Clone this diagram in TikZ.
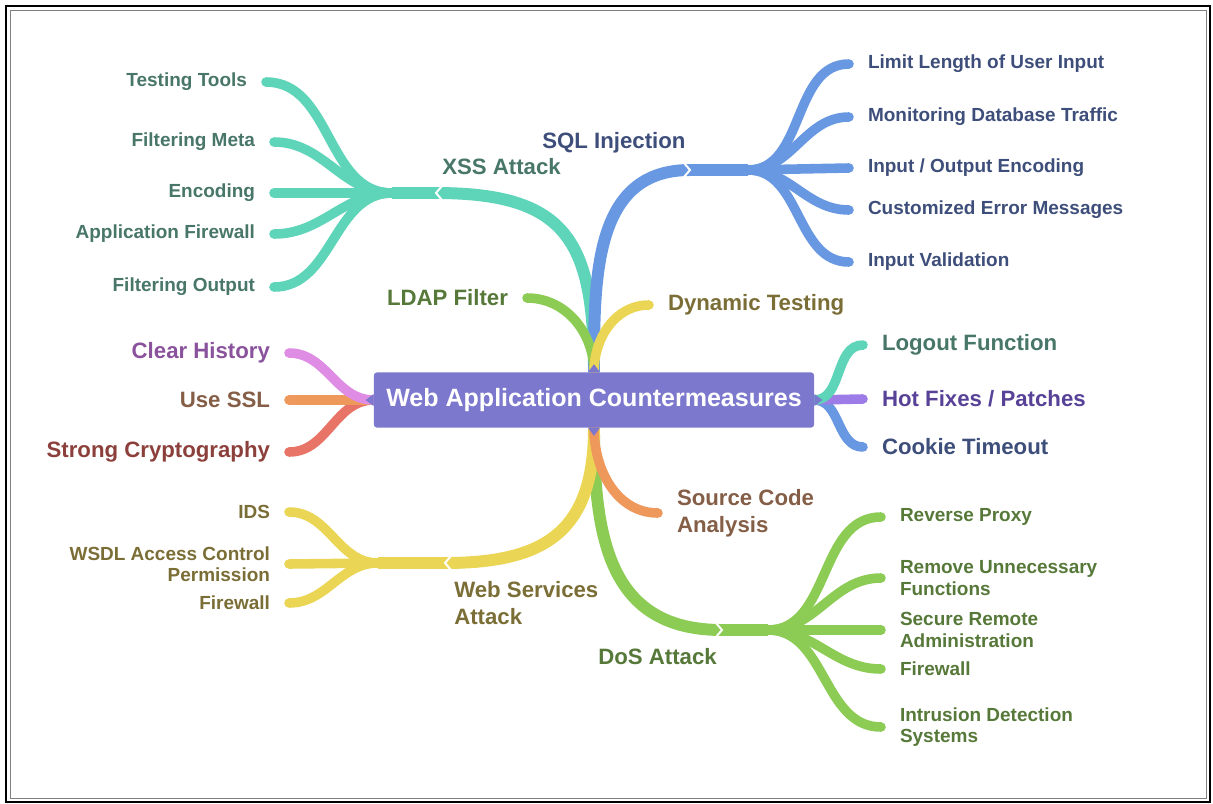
\documentclass[tikz,border=0pt]{standalone}
\usepackage{fontspec}
\setmainfont{Liberation Sans}
\usetikzlibrary{positioning,backgrounds}

\definecolor{rootc}{RGB}{124,120,206}
\definecolor{tealc}{RGB}{94,212,184}
\definecolor{tealt}{RGB}{72,118,104}
\definecolor{bluec}{RGB}{104,152,226}
\definecolor{bluet}{RGB}{62,78,122}
\definecolor{limec}{RGB}{140,204,84}
\definecolor{limet}{RGB}{86,120,56}
\definecolor{yellc}{RGB}{234,214,84}
\definecolor{yellt}{RGB}{122,110,54}
\definecolor{pinkc}{RGB}{222,140,228}
\definecolor{pinkt}{RGB}{138,82,156}
\definecolor{orngc}{RGB}{238,152,92}
\definecolor{orngt}{RGB}{132,94,70}
\definecolor{redc}{RGB}{232,116,104}
\definecolor{redt}{RGB}{140,64,60}
\definecolor{violc}{RGB}{158,124,232}
\definecolor{violt}{RGB}{88,66,152}

\begin{document}
\begin{tikzpicture}[x=0.025cm, y=-0.025cm,
    leaf/.style={font=\fontsize{13.5}{15.3}\selectfont\bfseries, inner sep=0pt, outer xsep=0.475cm},
    bigleaf/.style={leaf, font=\fontsize{15.8}{19}\selectfont\bfseries},
    tag/.style={font=\fontsize{15.8}{19}\selectfont\bfseries, inner sep=0pt, align=left},
    limb/.style={line width=8.5pt},
    twig/.style={line width=6.8pt, line cap=round},
    notch/.style={white, line width=1.4pt}]

  \useasboundingbox (0,0) rectangle (1213,804);
  \draw[line width=1.8pt] (6,6) rectangle (1210,802);
  \draw[gray, line width=0.6pt] (10,10) rectangle (1206,798);

  % centre
  \node[fill=rootc, text=white, rounded corners=2pt, minimum width=11cm, minimum height=1.375cm, font=\fontsize{17.8}{20}\selectfont\bfseries] (root) at (594,400) {Web Application Countermeasures};

  % XSS Attack
  \node[tag, anchor=west, text=tealt] (xsslab) at (442,167) {XSS Attack};
  \node[leaf, anchor=east, text=tealt] (tools) at (266,82) {Testing Tools};
  \node[leaf, anchor=east, text=tealt] (meta) at (274,142) {Filtering Meta};
  \node[leaf, anchor=east, text=tealt] (encoding) at (274,193) {Encoding};
  \node[leaf, anchor=east, text=tealt] (appfw) at (274,234) {Application Firewall};
  \node[leaf, anchor=east, text=tealt] (filtout) at (274,287) {Filtering Output};
  \coordinate (xss) at (436,193);
  \coordinate (xssfork) at (392,193);

  % SQL Injection
  \node[tag, anchor=west, text=bluet] (sqllab) at (542,143) {SQL Injection};
  \node[leaf, anchor=west, text=bluet] (limit) at (849,64) {Limit Length of User Input};
  \node[leaf, anchor=west, text=bluet] (monitor) at (849,117) {Monitoring Database Traffic};
  \node[leaf, anchor=west, text=bluet] (iocode) at (849,168) {Input / Output Encoding};
  \node[leaf, anchor=west, text=bluet] (errmsg) at (849,210) {Customized Error Messages};
  \node[leaf, anchor=west, text=bluet] (validate) at (849,262) {Input Validation};
  \coordinate (sql) at (690,170);
  \coordinate (sqlfork) at (748,170);

  \node[bigleaf, anchor=east, text=limet] (ldap) at (527,298) {LDAP Filter};
  \node[bigleaf, anchor=west, text=yellt] (dyntest) at (649,305) {Dynamic Testing};

  % left side
  \node[bigleaf, anchor=east, text=pinkt] (history) at (289,353) {Clear History};
  \node[bigleaf, anchor=east, text=orngt] (ssl) at (289,400) {Use SSL};
  \node[bigleaf, anchor=east, text=redt] (crypto) at (289,452) {Strong Cryptography};

  % right side
  \node[bigleaf, anchor=west, text=tealt] (logout) at (863,345) {Logout Function};
  \node[bigleaf, anchor=west, text=violt] (hotfix) at (863,399) {Hot Fixes / Patches};
  \node[bigleaf, anchor=west, text=bluet] (cookie) at (863,447) {Cookie Timeout};

  \node[bigleaf, anchor=west, text=orngt, align=left] (srccode) at (658,513) {Source Code\\Analysis};

  % Web Services Attack
  \node[tag, anchor=west, text=yellt] (wsalab) at (454,603) {Web Services\\Attack};
  \node[leaf, anchor=east, text=yellt] (ids) at (289,512) {IDS};
  \node[leaf, anchor=east, text=yellt, align=right] (wsdl) at (289,564) {WSDL Access Control\\Permission};
  \node[leaf, anchor=east, text=yellt] (wsfw) at (289,603) {Firewall};
  \coordinate (wsa) at (445,563);
  \coordinate (wsafork) at (378,563);

  % DoS Attack
  \node[tag, anchor=west, text=limet] (doslab) at (598,657) {DoS Attack};
  \node[leaf, anchor=west, text=limet] (revproxy) at (881,517) {Reverse Proxy};
  \node[leaf, anchor=west, text=limet, align=left] (rmfunc) at (881,578) {Remove Unnecessary\\Functions};
  \node[leaf, anchor=west, text=limet, align=left] (remadmin) at (881,630) {Secure Remote\\Administration};
  \node[leaf, anchor=west, text=limet] (dosfw) at (881,669) {Firewall};
  \node[leaf, anchor=west, text=limet, align=left] (intrusion) at (881,727) {Intrusion Detection\\Systems};
  \coordinate (dos) at (722,630);
  \coordinate (dosfork) at (768,630);

  \begin{scope}[on background layer]
    \draw[limb, tealc] (root.north) to[out=90, in=0, looseness=1.4] (xss) -- (xssfork);
    \draw[twig, tealc] (xssfork) to[out=180, in=0] (tools.east);
    \draw[twig, tealc] (xssfork) to[out=180, in=0] (meta.east);
    \draw[twig, tealc] (xssfork) -- (encoding.east);
    \draw[twig, tealc] (xssfork) to[out=180, in=0] (appfw.east);
    \draw[twig, tealc] (xssfork) to[out=180, in=0] (filtout.east);

    \draw[limb, bluec] (root.north) to[out=90, in=180, looseness=1.1] (sql) -- (sqlfork);
    \draw[twig, bluec] (sqlfork) to[out=0, in=180] (limit.west);
    \draw[twig, bluec] (sqlfork) to[out=0, in=180] (monitor.west);
    \draw[twig, bluec] (sqlfork) -- (iocode.west);
    \draw[twig, bluec] (sqlfork) to[out=0, in=180] (errmsg.west);
    \draw[twig, bluec] (sqlfork) to[out=0, in=180] (validate.west);

    \draw[twig, limec] (root.north) to[out=90, in=0] (ldap.east);
    \draw[twig, yellc] (root.north) to[out=90, in=180] (dyntest.west);

    \draw[limb, limec] (root.south) to[out=-90, in=180, looseness=1.2] (dos) -- (dosfork);
    \draw[twig, limec] (dosfork) to[out=0, in=180] (revproxy.west);
    \draw[twig, limec] (dosfork) to[out=0, in=180] (rmfunc.west);
    \draw[twig, limec] (dosfork) -- (remadmin.west);
    \draw[twig, limec] (dosfork) to[out=0, in=180] (dosfw.west);
    \draw[twig, limec] (dosfork) to[out=0, in=180] (intrusion.west);

    \draw[limb, yellc] (root.south) to[out=-90, in=0, looseness=1.3] (wsa) -- (wsafork);
    \draw[twig, yellc] (wsafork) to[out=180, in=0] (ids.east);
    \draw[twig, yellc] (wsafork) -- (wsdl.east);
    \draw[twig, yellc] (wsafork) to[out=180, in=0] (wsfw.east);

    \draw[twig, orngc] (root.south) to[out=-90, in=180] (srccode.west);

    \draw[twig, redc] (root.west) to[out=180, in=0] (crypto.east);
    \draw[twig, orngc] (root.west) -- (ssl.east);
    \draw[twig, pinkc] (root.west) to[out=180, in=0] (history.east);

    \draw[twig, bluec] (root.east) to[out=0, in=180] (cookie.west);
    \draw[twig, violc] (root.east) -- (hotfix.west);
    \draw[twig, tealc] (root.east) to[out=0, in=180] (logout.west);
  \end{scope}

  % little points on the centre box
  \fill[rootc] (root.north) ++(-6,0) -- ++(6,-8) -- ++(6,8) -- cycle;
  \fill[rootc] (root.south) ++(-6,0) -- ++(6,8) -- ++(6,-8) -- cycle;
  \fill[rootc] (root.west) ++(0,-6) -- ++(-8,6) -- ++(8,6) -- cycle;
  \fill[rootc] (root.east) ++(0,-6) -- ++(8,6) -- ++(-8,6) -- cycle;

  \draw[notch] (xss) ++(6,-7) -- ++(-6,7) -- ++(6,7);
  \draw[notch] (sql) ++(-6,-7) -- ++(6,7) -- ++(-6,7);
  \draw[notch] (wsa) ++(6,-7) -- ++(-6,7) -- ++(6,7);
  \draw[notch] (dos) ++(-6,-7) -- ++(6,7) -- ++(-6,7);
\end{tikzpicture}
\end{document}
